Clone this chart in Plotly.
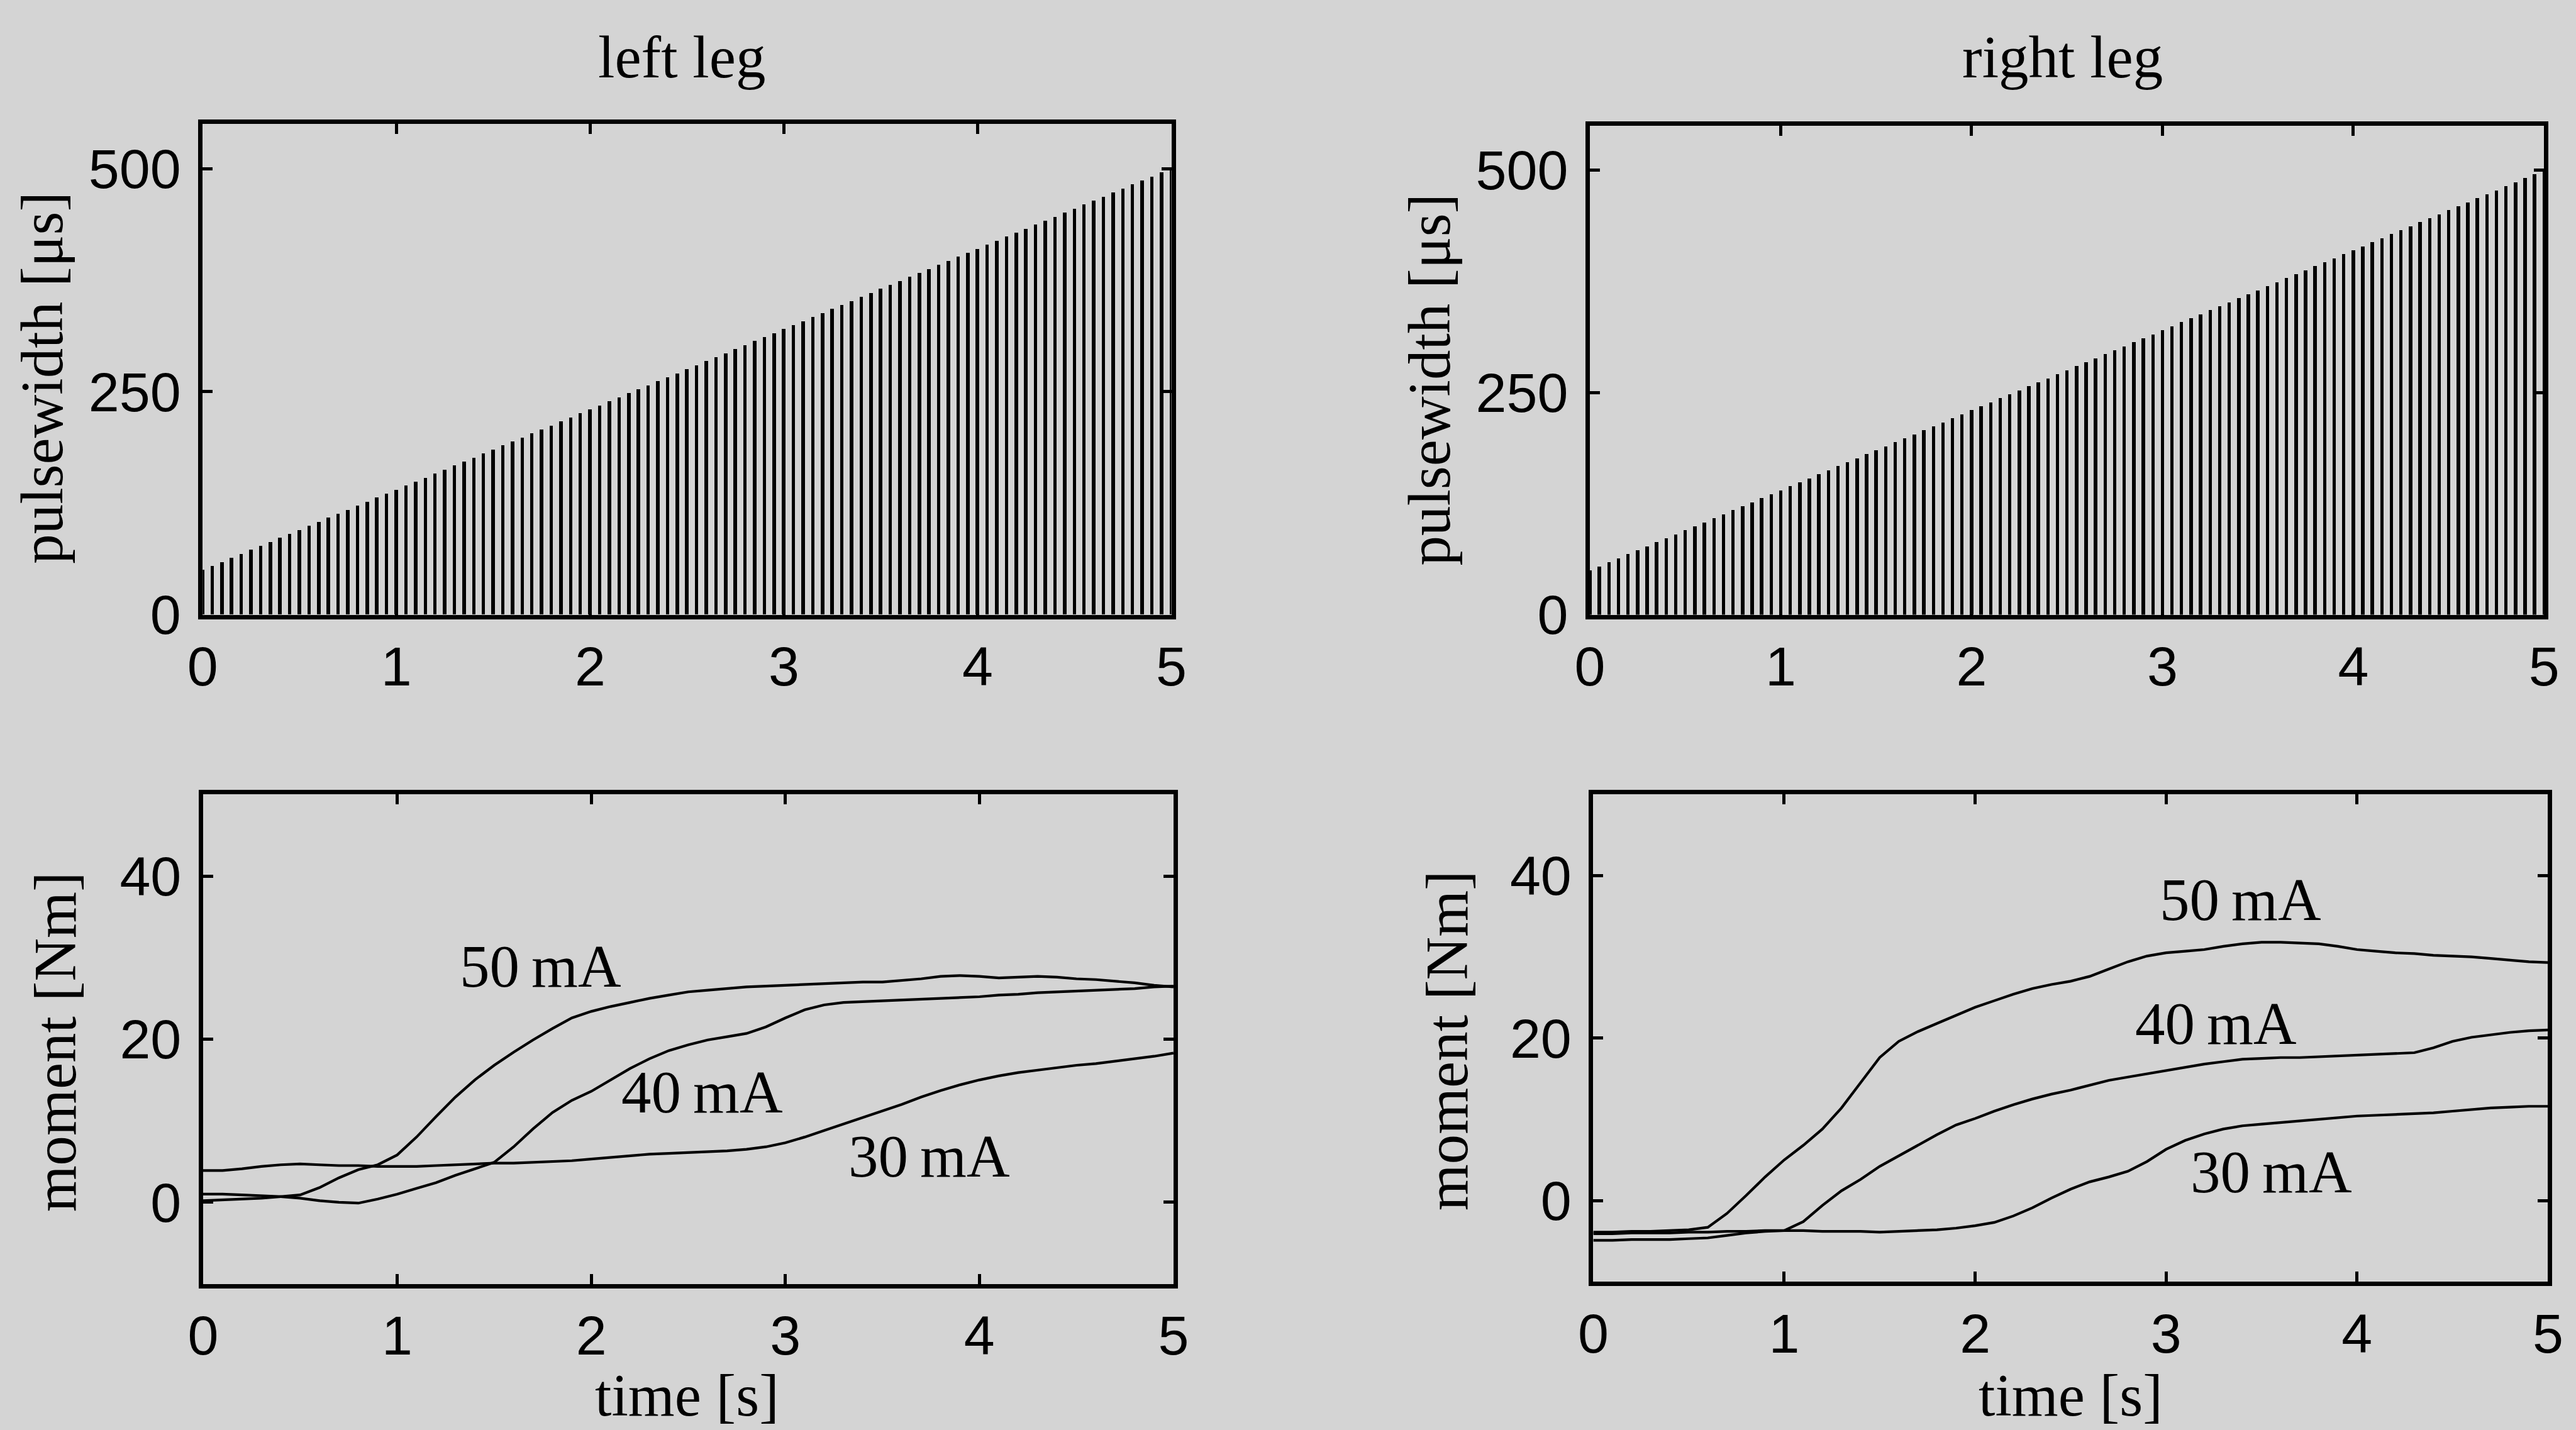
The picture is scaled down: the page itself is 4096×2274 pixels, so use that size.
import plotly.graph_objects as go

# ---------------- data ----------------
pulse_time = [0.0, 0.05, 0.1, 0.15, 0.2, 0.25, 0.3, 0.35, 0.4, 0.45,
              0.5, 0.55, 0.6, 0.65, 0.7, 0.75, 0.8, 0.85, 0.9, 0.95,
              1.0, 1.05, 1.1, 1.15, 1.2, 1.25, 1.3, 1.35, 1.4, 1.45,
              1.5, 1.55, 1.6, 1.65, 1.7, 1.75, 1.8, 1.85, 1.9, 1.95,
              2.0, 2.05, 2.1, 2.15, 2.2, 2.25, 2.3, 2.35, 2.4, 2.45,
              2.5, 2.55, 2.6, 2.65, 2.7, 2.75, 2.8, 2.85, 2.9, 2.95,
              3.0, 3.05, 3.1, 3.15, 3.2, 3.25, 3.3, 3.35, 3.4, 3.45,
              3.5, 3.55, 3.6, 3.65, 3.7, 3.75, 3.8, 3.85, 3.9, 3.95,
              4.0, 4.05, 4.1, 4.15, 4.2, 4.25, 4.3, 4.35, 4.4, 4.45,
              4.5, 4.55, 4.6, 4.65, 4.7, 4.75, 4.8, 4.85, 4.9, 4.95, 5.0]

pulsewidth_left = [50, 54.5, 59, 63.5, 68, 72.5, 77, 81.5, 86, 90.5,
                   95, 99.5, 104, 108.5, 113, 117.5, 122, 126.5, 131, 135.5,
                   140, 144.5, 149, 153.5, 158, 162.5, 167, 171.5, 176, 180.5,
                   185, 189.5, 194, 198.5, 203, 207.5, 212, 216.5, 221, 225.5,
                   230, 234.5, 239, 243.5, 248, 252.5, 257, 261.5, 266, 270.5,
                   275, 279.5, 284, 288.5, 293, 297.5, 302, 306.5, 311, 315.5,
                   320, 324.5, 329, 333.5, 338, 342.5, 347, 351.5, 356, 360.5,
                   365, 369.5, 374, 378.5, 383, 387.5, 392, 396.5, 401, 405.5,
                   410, 414.5, 419, 423.5, 428, 432.5, 437, 441.5, 446, 450.5,
                   455, 459.5, 464, 468.5, 473, 477.5, 482, 486.5, 491, 495.5, 500]

pulsewidth_right = [50, 54.5, 59, 63.5, 68, 72.5, 77, 81.5, 86, 90.5,
                    95, 99.5, 104, 108.5, 113, 117.5, 122, 126.5, 131, 135.5,
                    140, 144.5, 149, 153.5, 158, 162.5, 167, 171.5, 176, 180.5,
                    185, 189.5, 194, 198.5, 203, 207.5, 212, 216.5, 221, 225.5,
                    230, 234.5, 239, 243.5, 248, 252.5, 257, 261.5, 266, 270.5,
                    275, 279.5, 284, 288.5, 293, 297.5, 302, 306.5, 311, 315.5,
                    320, 324.5, 329, 333.5, 338, 342.5, 347, 351.5, 356, 360.5,
                    365, 369.5, 374, 378.5, 383, 387.5, 392, 396.5, 401, 405.5,
                    410, 414.5, 419, 423.5, 428, 432.5, 437, 441.5, 446, 450.5,
                    455, 459.5, 464, 468.5, 473, 477.5, 482, 486.5, 491, 495.5, 500]

time_s = [0.0, 0.1, 0.2, 0.3, 0.4, 0.5, 0.6, 0.7, 0.8, 0.9,
          1.0, 1.1, 1.2, 1.3, 1.4, 1.5, 1.6, 1.7, 1.8, 1.9,
          2.0, 2.1, 2.2, 2.3, 2.4, 2.5, 2.6, 2.7, 2.8, 2.9,
          3.0, 3.1, 3.2, 3.3, 3.4, 3.5, 3.6, 3.7, 3.8, 3.9,
          4.0, 4.1, 4.2, 4.3, 4.4, 4.5, 4.6, 4.7, 4.8, 4.9, 5.0]

left_50mA = [0.2, 0.3, 0.4, 0.5, 0.7, 0.9, 1.8, 3.0, 4.0, 4.6,
             5.8, 8.0, 10.5, 12.9, 15.0, 16.8, 18.4, 19.9, 21.3, 22.6,
             23.4, 24.0, 24.5, 25.0, 25.4, 25.8, 26.0, 26.2, 26.4, 26.5,
             26.6, 26.7, 26.8, 26.9, 27.0, 27.0, 27.2, 27.4, 27.7, 27.8,
             27.7, 27.5, 27.6, 27.7, 27.6, 27.4, 27.3, 27.1, 26.9, 26.6, 26.4]
left_40mA = [1.0, 1.0, 0.9, 0.8, 0.7, 0.5, 0.2, 0.0, -0.1, 0.4,
             1.0, 1.7, 2.4, 3.3, 4.1, 4.9, 6.8, 9.0, 11.0, 12.5,
             13.6, 15.0, 16.4, 17.6, 18.6, 19.3, 19.9, 20.3, 20.7, 21.5,
             22.6, 23.6, 24.2, 24.5, 24.6, 24.7, 24.8, 24.9, 25.0, 25.1,
             25.2, 25.4, 25.5, 25.7, 25.8, 25.9, 26.0, 26.1, 26.2, 26.4, 26.5]
left_30mA = [3.9, 3.9, 4.1, 4.4, 4.6, 4.7, 4.6, 4.5, 4.5, 4.4,
             4.4, 4.4, 4.5, 4.6, 4.7, 4.8, 4.8, 4.9, 5.0, 5.1,
             5.3, 5.5, 5.7, 5.9, 6.0, 6.1, 6.2, 6.3, 6.5, 6.8,
             7.3, 8.0, 8.8, 9.6, 10.4, 11.2, 12.0, 12.9, 13.7, 14.4,
             15.0, 15.5, 15.9, 16.2, 16.5, 16.8, 17.0, 17.3, 17.6, 17.9, 18.3]

right_50mA = [-3.9, -3.9, -3.8, -3.8, -3.7, -3.6, -3.3, -1.6, 0.6, 2.9,
              5.0, 6.8, 8.8, 11.4, 14.5, 17.6, 19.6, 20.8, 21.8, 22.8,
              23.8, 24.6, 25.4, 26.1, 26.6, 27.0, 27.6, 28.5, 29.4, 30.1,
              30.5, 30.7, 30.9, 31.3, 31.6, 31.8, 31.8, 31.7, 31.6, 31.3,
              30.9, 30.7, 30.5, 30.4, 30.2, 30.1, 30.0, 29.8, 29.6, 29.4, 29.3]
right_40mA = [-4.9, -4.9, -4.8, -4.8, -4.8, -4.7, -4.6, -4.3, -4.0, -3.8,
              -3.7, -2.6, -0.6, 1.2, 2.6, 4.2, 5.5, 6.8, 8.1, 9.3,
              10.1, 11.0, 11.8, 12.5, 13.1, 13.6, 14.2, 14.8, 15.2, 15.6,
              16.0, 16.4, 16.8, 17.1, 17.4, 17.5, 17.6, 17.6, 17.7, 17.8,
              17.9, 18.0, 18.1, 18.2, 18.8, 19.6, 20.1, 20.4, 20.7, 20.9, 21.0]
right_30mA = [-4.1, -4.1, -4.0, -4.0, -4.0, -3.9, -3.9, -3.8, -3.8, -3.7,
              -3.7, -3.7, -3.8, -3.8, -3.8, -3.9, -3.8, -3.7, -3.6, -3.4,
              -3.1, -2.7, -1.9, -0.9, 0.3, 1.4, 2.3, 2.9, 3.6, 4.8,
              6.3, 7.4, 8.2, 8.8, 9.2, 9.4, 9.6, 9.8, 10.0, 10.2,
              10.4, 10.5, 10.6, 10.7, 10.8, 11.0, 11.2, 11.4, 11.5, 11.6, 11.6]

x_ticks = [0, 1, 2, 3, 4, 5]
pw_ticks = [0, 250, 500]
moment_ticks = [0, 20, 40]

panel_titles = ["left leg", "right leg"]
current_labels = ["50\u2009mA", "40\u2009mA", "30\u2009mA"]
# label positions (time, moment) in data units
left_label_pos = [(1.74, 28.9), (2.57, 13.5), (3.74, 5.6)]
right_label_pos = [(3.39, 37.0), (3.26, 21.8), (3.55, 3.5)]

# ---------------- styling ----------------
BG = "rgb(212,212,212)"
SANS = "Liberation Sans, Arial, sans-serif"
SERIF = "Liberation Serif, Times New Roman, serif"
TICKFONT = dict(family=SANS, size=88, color="black")
SERIF_SIZE = 95
LINE_W = 4.2

fig = go.Figure()

# top: pulse widths as thin bars
for xa, ya, pw in [("x", "y", pulsewidth_left), ("x2", "y2", pulsewidth_right)]:
    fig.add_trace(go.Bar(x=pulse_time, y=pw, width=0.018,
                         marker=dict(color="black", line=dict(width=0)),
                         xaxis=xa, yaxis=ya, showlegend=False))

# bottom: moments
for ys in [left_50mA, left_40mA, left_30mA]:
    fig.add_trace(go.Scatter(x=time_s, y=ys, mode="lines",
                             line=dict(color="black", width=LINE_W),
                             xaxis="x3", yaxis="y3", showlegend=False))
for ys in [right_50mA, right_40mA, right_30mA]:
    fig.add_trace(go.Scatter(x=time_s, y=ys, mode="lines",
                             line=dict(color="black", width=LINE_W),
                             xaxis="x4", yaxis="y4", showlegend=False))

W_FULL, H_FULL = 6063.0, 3366.0


def xd(a, b):
    return [a / W_FULL, b / W_FULL]


def yd(top, bottom):
    return [1 - bottom / H_FULL, 1 - top / H_FULL]


common = dict(showline=True, linecolor="black", linewidth=7, mirror="ticks",
              ticks="inside", ticklen=16, tickwidth=4.5, tickcolor="black",
              showgrid=False, zeroline=False, tickfont=TICKFONT, fixedrange=True)

xcommon = dict(common, range=[0, 5], tickvals=x_ticks, ticklabelstandoff=0)
ycommon = dict(common, ticklabelstandoff=10)

fig.update_layout(
    width=4096, height=2274, autosize=False,
    margin=dict(l=0, r=0, t=0, b=0, pad=0, autoexpand=False),
    paper_bgcolor=BG, plot_bgcolor=BG,
    bargap=0,
    xaxis=dict(xcommon, domain=xd(477, 2757), anchor="y"),
    yaxis=dict(ycommon, domain=yd(292, 1447), anchor="x", range=[0, 550], tickvals=pw_ticks),
    xaxis2=dict(xcommon, domain=xd(3742, 5988), anchor="y2"),
    yaxis2=dict(ycommon, domain=yd(296, 1447), anchor="x2", range=[0, 550], tickvals=pw_ticks),
    xaxis3=dict(xcommon, domain=xd(478, 2762), anchor="y3"),
    yaxis3=dict(ycommon, domain=yd(1870, 3022), anchor="x3", range=[-10, 50], tickvals=moment_ticks),
    xaxis4=dict(xcommon, domain=xd(3750, 5997), anchor="y4"),
    yaxis4=dict(ycommon, domain=yd(1870, 3017), anchor="x4", range=[-10, 50], tickvals=moment_ticks),
)

annotations = []


def paper_text(text, xf, yf, angle=0, yanchor="middle"):
    annotations.append(dict(text=text, x=xf / W_FULL, y=1 - yf / H_FULL,
                            xref="paper", yref="paper", showarrow=False,
                            xanchor="center", yanchor=yanchor, textangle=angle,
                            font=dict(family=SERIF, size=SERIF_SIZE, color="black")))


# panel titles
paper_text(panel_titles[0], 1605, 135)
paper_text(panel_titles[1], 4855, 135)
# y axis titles
paper_text("pulsewidth [\u03bcs]", 98, 889, -90)
paper_text("pulsewidth [\u03bcs]", 3364, 894, -90)
paper_text("moment [Nm]", 130, 2452, -90)
paper_text("moment [Nm]", 3406, 2450, -90)
# x axis titles (sit on the bottom edge, as in the reference)
paper_text("time [s]", 1617, H_FULL, yanchor="bottom")
paper_text("time [s]", 4873, H_FULL, yanchor="bottom")

# current labels
for (lab, (tx, ty)) in zip(current_labels, left_label_pos):
    annotations.append(dict(text=lab, x=tx, y=ty, xref="x3", yref="y3", showarrow=False,
                            xanchor="center", yanchor="middle",
                            font=dict(family=SERIF, size=SERIF_SIZE, color="black")))
for (lab, (tx, ty)) in zip(current_labels, right_label_pos):
    annotations.append(dict(text=lab, x=tx, y=ty, xref="x4", yref="y4", showarrow=False,
                            xanchor="center", yanchor="middle",
                            font=dict(family=SERIF, size=SERIF_SIZE, color="black")))

fig.update_layout(annotations=annotations)

fig.write_html("out.html")
